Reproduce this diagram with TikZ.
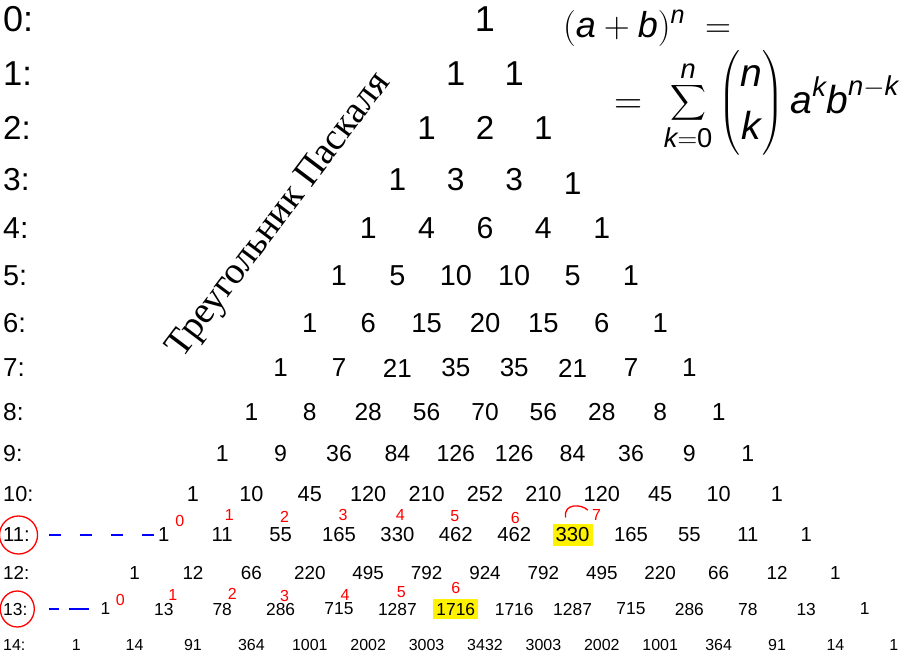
\RequirePackage{fix-cm}
\documentclass[tikz,border=0pt]{standalone}
\usepackage{amsmath}
\usepackage{fontspec}
\setmainfont{Liberation Sans}
\newfontfamily\titlefont{Liberation Serif}
\usetikzlibrary{positioning,calc}
\tikzset{
  rowlab/.style={anchor=west, inner sep=0pt},
  entry/.style={inner sep=0pt},
  hl-11-7/.style={fill=yellow, inner xsep=3pt, inner ysep=4pt},
  hl-13-6/.style={fill=yellow, inner xsep=3pt, inner ysep=4pt},
  hl-3-3/.style={yshift=-4pt},
  note/.style={text=red, inner sep=0pt, font=\fontsize{16}{16}\selectfont},
  pen/.style={red, line width=1.3pt, line cap=round},
  bluedash/.style={blue, line width=1.6pt, dash pattern=on 12pt off 19pt}
}
\newcommand{\mv}[1]{\text{\itshape #1}}
\newcommand{\fsz}[1]{\fontsize{#1}{#1}\selectfont}

\begin{document}
\begin{tikzpicture}[x=1pt, y=-1pt]
  \useasboundingbox (0,0) rectangle (913,656);

  % rows of the triangle
  \foreach \n/\y/\vals in {
      0/19/{1},
      1/74/{1,1},
      2/128/{1,2,1},
      3/180/{1,3,3,1},
      4/228/{1,4,6,4,1},
      5/276/{1,5,10,10,5,1},
      6/323/{1,6,15,20,15,6,1},
      7/368/{1,7,21,35,35,21,7,1},
      8/412/{1,8,28,56,70,56,28,8,1},
      9/454/{1,9,36,84,126,126,84,36,9,1},
      10/494/{1,10,45,120,210,252,210,120,45,10,1},
      11/535/{1,11,55,165,330,462,462,330,165,55,11,1},
      12/573/{1,12,66,220,495,792,924,792,495,220,66,12,1},
      13/609/{1,13,78,286,715,1287,1716,1716,1287,715,286,78,13,1},
      14/645/{1,14,91,364,1001,2002,3003,3432,3003,2002,1001,364,91,14,1}}{
    \pgfmathsetmacro{\fs}{36-1.43*\n}
    \node[rowlab, font=\fsz{\fs}] (r-\n) at (3,\y) {\n:};
    \foreach \v [count=\c from 0] in \vals {
      \node[entry, hl-\n-\c/.try, font=\fsz{\fs}] (e-\n-\c)
        at ({485-29.2*\n+58.4*\c},\y) {\v};
    }
  }

  % binomial formula
  \node[anchor=base west, inner sep=0pt, font=\fsz{36}] (lhs) at (563,37)
    {$(\mv{a}+\mv{b})^{\mv{n}}\;=$};
  \node[anchor=base west, inner sep=0pt, font=\fsz{39}] (rhs) at (614,113)
    {$=\;\displaystyle\sum_{\mv{k}=\text{0}}^{\mv{n}}\binom{\mv{n}}{\mv{k}}\,\mv{a}^{\mv{k}}\mv{b}^{\mv{n}-\mv{k}}$};

  \node[rotate=53, font=\titlefont\fsz{38}] (title) at (280,216)
    {Треугольник Паскаля};

  % red notes over rows 11 and 13
  \foreach \k/\dx/\dy in {0/16/-14, 1/7/-20, 2/4/-18, 3/4/-20,
                          4/3/-20, 5/-1/-19, 6/1/-17, 7/24/-20}
    \node[note] (m-11-\k) at ($(e-11-\k)+(\dx,\dy)$) {\k};
  \foreach \k/\dx/\dy in {0/15/-9, 1/9/-14, 2/10/-15, 3/4/-13,
                          4/6/-14, 5/4/-17, 6/0/-21}
    \node[note] (m-13-\k) at ($(e-13-\k)+(\dx,\dy)$) {\k};
  \draw[pen] ($(m-11-7)+(-31,2)$) .. controls +(-2,-14) and +(-6,-6) .. ($(m-11-7)+(-9,-5)$);

  \draw[pen] ([xshift=2pt]r-11.center) ellipse [x radius=19, y radius=19];
  \draw[pen] ([xshift=2pt]r-13.center) ellipse [x radius=17, y radius=18];

  \draw[bluedash, shorten <=19pt, shorten >=4pt] (r-11.east) -- (e-11-0.west);
  \draw[bluedash, dash pattern=on 10pt off 10pt on 20pt off 10pt,
        shorten <=21pt, shorten >=10pt] (r-13.east) -- (e-13-0.west);
\end{tikzpicture}
\end{document}
